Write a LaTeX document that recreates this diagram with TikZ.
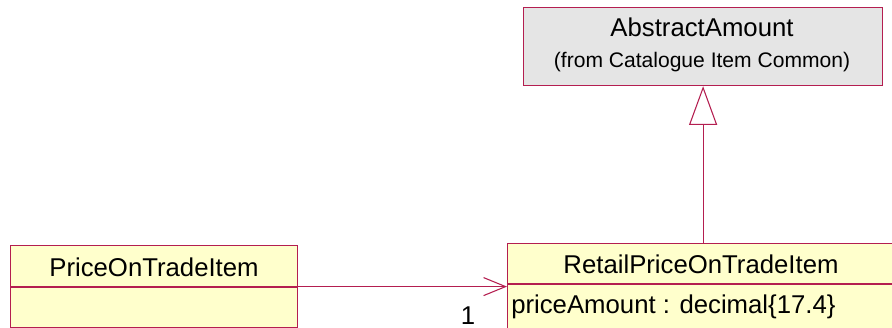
\documentclass[tikz,border=0pt]{standalone}
\usepackage{fontspec}
\setmainfont{Liberation Sans}
\usetikzlibrary{arrows.meta}
\definecolor{umlred}{RGB}{180,30,80}
\definecolor{umlyellow}{RGB}{255,255,204}
\definecolor{umlgray}{RGB}{229,229,229}
\begin{document}
\begin{tikzpicture}[x=0.75pt,y=-0.75pt,
  classbox/.style={draw=umlred, line width=0.9pt, inner sep=0pt, anchor=north west},
  divider/.style={draw=umlred, line width=0.9pt},
  bigtxt/.style={inner sep=0pt, anchor=base, font=\fontsize{19.3}{21}\selectfont},
  smalltxt/.style={inner sep=0pt, anchor=base, font=\fontsize{15.8}{18}\selectfont},
  assoc/.style={draw=umlred, line width=0.8pt, -{Straight Barb[length=16.5pt, width=13.5pt, line width=0.8pt]}},
  gen/.style={draw=umlred, line width=0.8pt, -{Triangle[open, fill=white, length=29pt, width=21pt, line width=0.8pt]}}]
\useasboundingbox (0,0) rectangle (892,328);
% boxes
\node[classbox, fill=umlgray, minimum width=269.25pt, minimum height=58.5pt] (abs) at (523,7) {};
\node[classbox, fill=umlyellow, minimum width=215.25pt, minimum height=61.5pt] (price) at (10,245) {};
\node[classbox, fill=umlyellow, minimum width=291pt, minimum height=66.75pt] (retail) at (507,243) {};
% dividers
\draw[divider] (price.west |- 0,287) -- (price.east |- 0,287);
\draw[divider] (retail.west |- 0,284) -- (retail.east |- 0,284);
% texts
\node[bigtxt] (absname) at (702,37) {AbstractAmount};
\node[smalltxt] (absfrom) at (702,68) {(from Catalogue Item Common)};
\node[bigtxt] (pricename) at (154,276) {PriceOnTradeItem};
\node[bigtxt] (retailname) at (701,273) {RetailPriceOnTradeItem};
\node[bigtxt, anchor=base west] (attr) at (511,313) {priceAmount : decimal\{17.4\}};
\node[bigtxt] (mult) at (468,324) {1};
% connectors
\draw[assoc] (price.east) -- (price.east -| retail.west);
\draw[gen] (abs.south |- retail.north) -- (abs.south);
\end{tikzpicture}
\end{document}
